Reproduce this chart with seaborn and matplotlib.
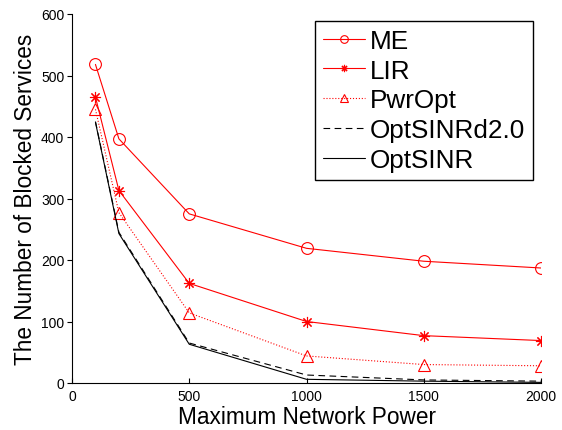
import matplotlib
matplotlib.use("Agg")
import matplotlib.pyplot as plt
import seaborn as sns
import pandas as pd

power = [100, 200, 500, 1000, 1500, 2000]
me = [518, 397, 275, 219, 198, 187]
lir = [465, 313, 162, 100, 77, 69]
pwropt = [445, 277, 114, 44, 30, 28]
optsinr_d2 = [425, 245, 65, 13, 5, 3]
optsinr = [424, 243, 63, 6, 3, 1]

series_names = ["ME", "LIR", "PwrOpt", "OptSINRd2.0", "OptSINR"]
series_vals = [me, lir, pwropt, optsinr_d2, optsinr]

sns.set_style("ticks")
plt.rcParams['font.family'] = ['Liberation Sans', 'DejaVu Sans']
plt.rcParams['text.color'] = 'black'
plt.rcParams['axes.labelcolor'] = 'black'
plt.rcParams['xtick.color'] = 'black'
plt.rcParams['ytick.color'] = 'black'

fig = plt.figure(figsize=(5.62, 4.31), dpi=100)
ax = fig.add_axes([72/562, 1-384/431, (541-72)/562, (384-15)/431])

styles = {
    "ME": dict(color="red", linestyle="-", marker="o", markersize=8.5, mfc="none", mec="red", mew=0.8),
    "LIR": dict(color="red", linestyle="-", marker=(8, 2, 0), markersize=8, mec="red", mew=0.8),
    "PwrOpt": dict(color="red", linestyle=":", marker="^", markersize=9, mfc="none", mec="red", mew=0.8),
    "OptSINRd2.0": dict(color="black", linestyle=(0, (6, 4)), marker=None),
    "OptSINR": dict(color="black", linestyle="-", marker=None),
}

for name, vals in zip(series_names, series_vals):
    df = pd.DataFrame({"x": power, "y": vals})
    st = styles[name]
    sns.lineplot(data=df, x="x", y="y", ax=ax, label=name, linewidth=0.8, **st)

ax.set_xlim(0, 2000)
ax.set_ylim(0, 600)
ax.set_xticks([0, 500, 1000, 1500, 2000])
ax.set_yticks([0, 100, 200, 300, 400, 500, 600])
ax.tick_params(axis='x', direction='in', length=3.5, width=0.8, labelsize=10, pad=4)
ax.tick_params(axis='y', direction='out', length=3.5, width=0.8, labelsize=10, pad=2)
for s in ["top", "right"]:
    ax.spines[s].set_visible(False)
for s in ["left", "bottom"]:
    ax.spines[s].set_linewidth(0.8)
    ax.spines[s].set_color("black")

ax.set_xlabel("Maximum Network Power", fontsize=16.3, labelpad=2)
ax.set_ylabel("The Number of Blocked Services", fontsize=16.3, labelpad=3)

leg = ax.legend(loc="upper right", bbox_to_anchor=((533-72)/469, (384-22)/369),
                fontsize=18.8, frameon=True, fancybox=False, shadow=False,
                handlelength=1.6, handletextpad=0.2, labelspacing=0.22,
                borderpad=0.3, borderaxespad=0, markerscale=0.65)
leg.get_frame().set_edgecolor("black")
leg.get_frame().set_linewidth(1.0)
leg.get_frame().set_alpha(1)

fig.savefig("out.png", dpi=100)
